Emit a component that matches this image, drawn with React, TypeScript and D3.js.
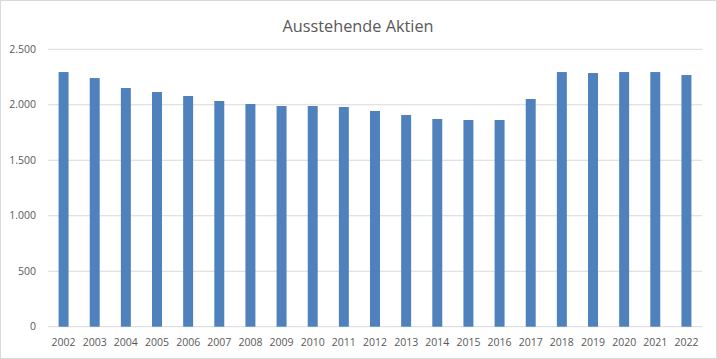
import React from "react";
import * as d3 from "d3";

const years = ["2002","2003","2004","2005","2006","2007","2008","2009","2010","2011","2012","2013","2014","2015","2016","2017","2018","2019","2020","2021","2022"];
const shares = [2295,2241,2151,2115,2079,2034,2007,1989,1989,1980,1944,1908,1872,1863,1863,2052,2295,2286,2295,2295,2268];
const yTicks = [0,500,1000,1500,2000,2500];
const title = "Ausstehende Aktien";

const W = 717, H = 359;
const left = 48, right = 702, top = 49.3, bottom = 326.7;
const font = "'Open Sans', 'Noto Sans', sans-serif";
const textColor = "#595959";

export default function App() {
  const x = d3.scaleBand<string>().domain(years).range([left, right]).paddingInner(0.68).paddingOuter(0.34);
  const y = d3.scaleLinear().domain([0, 2500]).range([bottom, top]);
  const fmt = (v: number) => d3.format(",")(v).replace(/,/g, ".");
  return (
    <svg width={W} height={H} style={{ position: "fixed", left: 0, top: 0, background: "#fff" }}>
      <rect x={0.5} y={0.5} width={W - 1} height={H - 1} fill="#fff" stroke="#d9d9d9" />
      <text x={358} y={31.5} textAnchor="middle" fontFamily={font} fontSize={17} fill={textColor} textLength={151} lengthAdjust="spacingAndGlyphs">{title}</text>
      {yTicks.map((t) => (
        <g key={t}>
          <line x1={left} x2={right} y1={y(t)} y2={y(t)} stroke="#d9d9d9" strokeWidth={1} />
          <text x={36} y={y(t)} dy="0.35em" textAnchor="end" fontFamily={font} fontSize={10.5} fill={textColor}>{fmt(t)}</text>
        </g>
      ))}
      {years.map((yr, i) => (
        <g key={yr}>
          <rect x={x(yr)} y={y(shares[i])} width={x.bandwidth()} height={bottom - y(shares[i])} fill="#4f81bd" />
          <text x={(x(yr) as number) + x.bandwidth() / 2} y={346} textAnchor="middle" fontFamily={font} fontSize={10.5} fill={textColor}>{yr}</text>
        </g>
      ))}
    </svg>
  );
}
